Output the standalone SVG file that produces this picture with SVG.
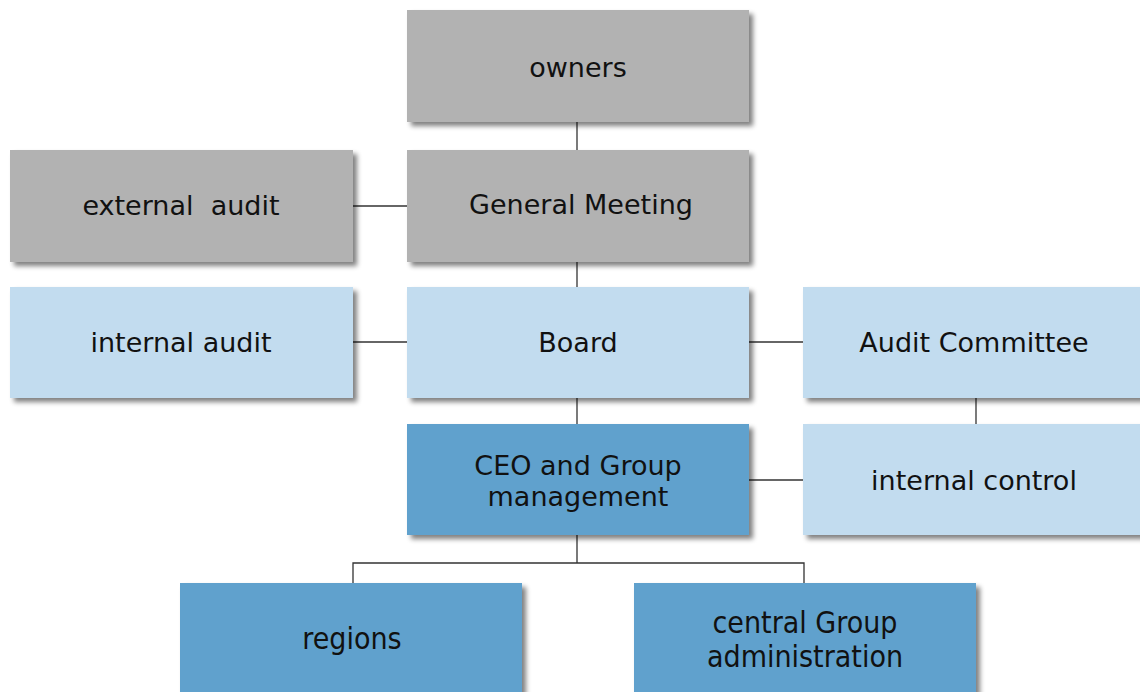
<svg xmlns="http://www.w3.org/2000/svg" width="1140" height="692" viewBox="0 0 1140 692">
  <style>
    .gray { fill: #b2b2b2; }
    .light { fill: #c2dcef; }
    .mid { fill: #61a1cd; }
    .box { filter: url(#shadow); }
    .lbl { font-family: "DejaVu Sans", Verdana, sans-serif; font-size: 27px; fill: #111; text-anchor: middle; white-space: pre; }
    .narrow { font-family: "DejaVu Sans Condensed", "DejaVu Sans", sans-serif; font-size: 30px; fill: #111; text-anchor: middle; }
    .conn { stroke: #333; stroke-width: 1.3; fill: none; }
  </style>
  <defs>
    <filter id="shadow" x="-10%" y="-10%" width="125%" height="130%">
      <feGaussianBlur in="SourceAlpha" stdDeviation="2.5"/>
      <feOffset dx="4" dy="4" result="b"/>
      <feComponentTransfer><feFuncA type="linear" slope="0.5"/></feComponentTransfer>
      <feMerge><feMergeNode/><feMergeNode in="SourceGraphic"/></feMerge>
    </filter>
  </defs>
  <rect width="1140" height="692" fill="#fff"/>

  <g id="connectors">
    <line class="conn" x1="577" y1="122" x2="577" y2="150"/>
    <line class="conn" x1="353" y1="206" x2="407" y2="206"/>
    <line class="conn" x1="577" y1="262" x2="577" y2="287"/>
    <line class="conn" x1="353" y1="342" x2="407" y2="342"/>
    <line class="conn" x1="749" y1="342" x2="803" y2="342"/>
    <line class="conn" x1="976" y1="398" x2="976" y2="424"/>
    <line class="conn" x1="577" y1="398" x2="577" y2="424"/>
    <line class="conn" x1="749" y1="480" x2="803" y2="480"/>
    <path class="conn" d="M577 535 V563 M353 583 V563 H804 V583"/>
  </g>

  <g id="owners">
    <rect class="box gray" x="407" y="10" width="342" height="112"/>
    <text class="lbl" x="578" y="77">owners</text>
  </g>
  <g id="external-audit">
    <rect class="box gray" x="10" y="150" width="343" height="112"/>
    <text class="lbl" x="181" y="215" xml:space="preserve">external  audit</text>
  </g>
  <g id="general-meeting">
    <rect class="box gray" x="407" y="150" width="342" height="112"/>
    <text class="lbl" x="581" y="214">General Meeting</text>
  </g>
  <g id="internal-audit">
    <rect class="box light" x="10" y="287" width="343" height="111"/>
    <text class="lbl" x="181" y="352">internal audit</text>
  </g>
  <g id="board">
    <rect class="box light" x="407" y="287" width="342" height="111"/>
    <text class="lbl" x="578" y="352">Board</text>
  </g>
  <g id="audit-committee">
    <rect class="box light" x="803" y="287" width="340" height="111"/>
    <text class="lbl" x="974" y="352">Audit Committee</text>
  </g>
  <g id="ceo">
    <rect class="box mid" x="407" y="424" width="342" height="111"/>
    <text class="lbl" x="578" y="475">CEO and Group</text>
    <text class="lbl" x="578" y="506">management</text>
  </g>
  <g id="internal-control">
    <rect class="box light" x="803" y="424" width="340" height="111"/>
    <text class="lbl" x="974" y="490">internal control</text>
  </g>
  <g id="regions">
    <rect class="box mid" x="180" y="583" width="342" height="120"/>
    <text class="narrow" x="352" y="649">regions</text>
  </g>
  <g id="central-admin">
    <rect class="box mid" x="634" y="583" width="342" height="120"/>
    <text class="narrow" x="805" y="633">central Group</text>
    <text class="narrow" x="805" y="667">administration</text>
  </g>
</svg>
